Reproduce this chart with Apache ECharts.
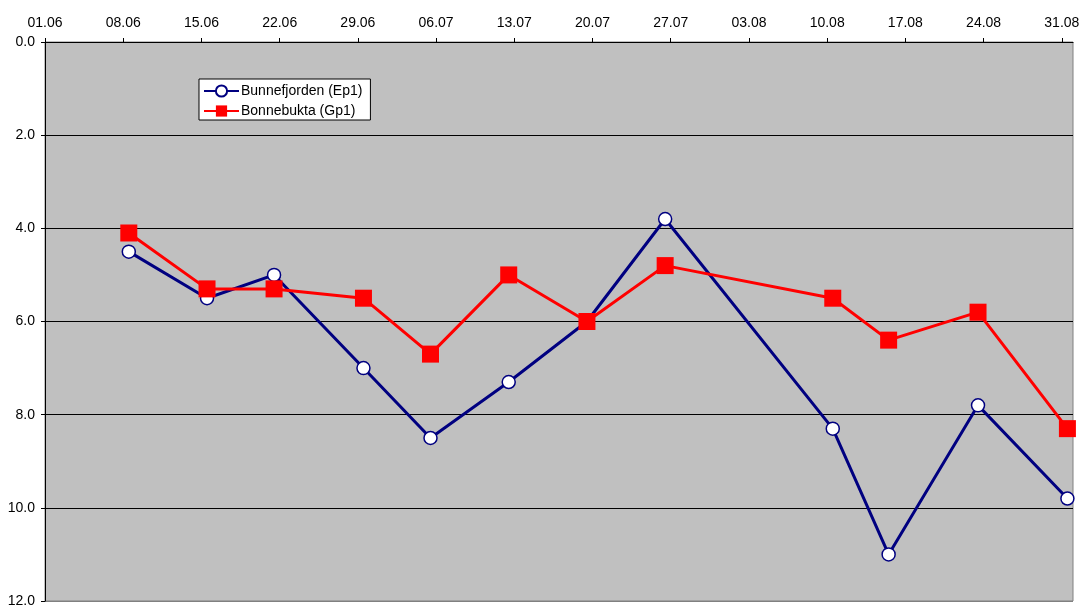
<!DOCTYPE html>
<html>
<head>
<meta charset="utf-8">
<script src="https://cdn.jsdelivr.net/npm/echarts@6/dist/echarts.min.js"></script>
<style>
html,body{margin:0;padding:0;background:#fff;}
#chart{width:1086px;height:608px;}
</style>
</head>
<body>
<div id="chart"></div>
<script>
// Sampling dates (dd.mm), year-independent; axis starts 01.06
var sampleDates = ['08.06','15.06','21.06','29.06','05.07','12.07','19.07','26.07','10.08','15.08','23.08','31.08'];
var bunnefjorden = [4.5, 5.5, 5.0, 7.0, 8.5, 7.3, 6.0, 3.8, 8.3, 11.0, 7.8, 9.8];
var bonnebukta   = [4.1, 5.3, 5.3, 5.5, 6.7, 5.0, 6.0, 4.8, 5.5, 6.4, 5.8, 8.3];
var tickLabels = ['01.06','08.06','15.06','22.06','29.06','06.07','13.07','20.07','27.07','03.08','10.08','17.08','24.08','31.08'];

function dayOffset(s) {
  var d = parseInt(s.slice(0, 2), 10), m = parseInt(s.slice(3, 5), 10);
  var t = Date.UTC(2001, m - 1, d), t0 = Date.UTC(2001, 5, 1);
  return Math.round((t - t0) / 86400000);
}
// Excel date axis: points sit in the middle of their day slot
var xs = sampleDates.map(function (s) { return dayOffset(s) + 0.5; });
var tickVals = tickLabels.map(function (_, i) { return i * 7; });

var font = "'Liberation Sans', Arial, sans-serif";
var chart = echarts.init(document.getElementById('chart'), null, {renderer: 'canvas'});
chart.setOption({
  animation: false,
  backgroundColor: '#ffffff',
  grid: {
    left: 45, top: 42, right: 13, bottom: 7,
    show: true, backgroundColor: '#c0c0c0', borderColor: '#808080', borderWidth: 1
  },
  legend: {
    orient: 'vertical',
    left: 199, top: 79,
    backgroundColor: '#ffffff',
    borderColor: '#000000', borderWidth: 1, borderRadius: 0,
    padding: [5, 8, 2, 4],
    itemGap: 6,
    itemWidth: 35, itemHeight: 14,
    textStyle: {fontFamily: font, fontSize: 14, color: '#000', padding: [0, 0, 0, -3]},
    data: ['Bunnefjorden (Ep1)', 'Bonnebukta (Gp1)']
  },
  xAxis: {
    type: 'value',
    position: 'top',
    min: 0, max: 92,
    axisLine: {show: true, lineStyle: {color: '#000', width: 1}},
    axisTick: {show: true, length: 4, inside: false, customValues: tickVals, lineStyle: {color: '#000'}},
    axisLabel: {
      customValues: tickVals,
      fontFamily: font, fontSize: 14, color: '#000', margin: 12,
      formatter: function (v) { return tickLabels[Math.round(v / 7)] || ''; }
    },
    splitLine: {show: false}
  },
  yAxis: {
    type: 'value',
    inverse: true,
    min: 0, max: 12, interval: 2,
    axisLine: {show: true, lineStyle: {color: '#000', width: 1}},
    axisTick: {show: true, length: 4, inside: false, lineStyle: {color: '#000'}},
    axisLabel: {
      fontFamily: font, fontSize: 14, color: '#000', margin: 10,
      formatter: function (v) { return v.toFixed(1); }
    },
    splitLine: {show: true, lineStyle: {color: ['#000', '#000', '#000', '#000', '#000', '#000', '#808080'], width: 1}}
  },
  series: [
    {
      name: 'Bunnefjorden (Ep1)',
      type: 'line',
      data: xs.map(function (x, i) { return [x, bunnefjorden[i]]; }),
      symbol: 'circle', symbolSize: 13,
      lineStyle: {color: '#000080', width: 3},
      itemStyle: {color: '#ffffff', borderColor: '#000080', borderWidth: 1.5},
      z: 2
    },
    {
      name: 'Bonnebukta (Gp1)',
      type: 'line',
      data: xs.map(function (x, i) { return [x, bonnebukta[i]]; }),
      symbol: 'rect', symbolSize: 17,
      lineStyle: {color: '#ff0000', width: 3},
      itemStyle: {color: '#ff0000', borderWidth: 0},
      z: 3
    }
  ]
});
</script>
</body>
</html>
